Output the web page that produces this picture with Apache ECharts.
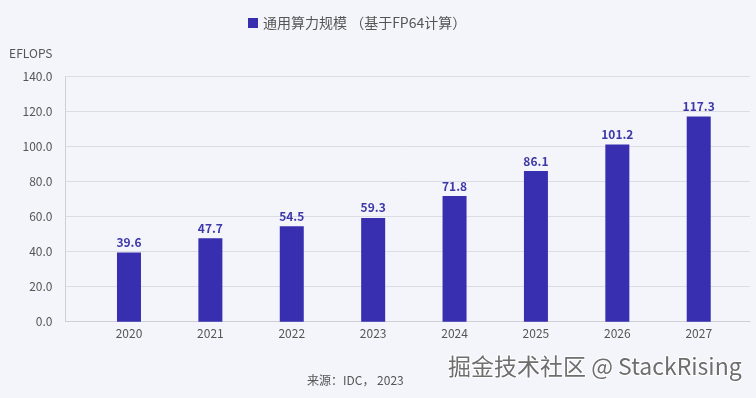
<!DOCTYPE html>
<html>
<head>
<meta charset="utf-8">
<script src="https://cdn.jsdelivr.net/npm/echarts@6/dist/echarts.min.js"></script>
<style>
  html, body { margin: 0; padding: 0; background: #f4f4fb; }
  #main { width: 756px; height: 398px; }
</style>
</head>
<body>
<div id="main"></div>
<script>
// 年份与通用算力规模（EFLOPS）
var years = [2020, 2021, 2022, 2023, 2024, 2025, 2026, 2027];
var values = [39.6, 47.7, 54.5, 59.3, 71.8, 86.1, 101.2, 117.3];
var yTicks = [0, 20, 40, 60, 80, 100, 120, 140];
var seriesName = '通用算力规模 （基于FP64计算）';

var FONT = '"Noto Sans CJK SC", "Noto Sans", sans-serif';
var barData = [];
for (var i = 0; i < years.length; i++) {
    barData.push([years[i], values[i]]);
}

var myChart = echarts.init(document.getElementById('main'));
var option = {
    backgroundColor: '#f4f4fb',
    textStyle: { fontFamily: FONT },
    legend: {
        top: 11,
        left: 243,
        itemWidth: 10,
        itemHeight: 10,
        itemGap: 7,
        icon: 'rect',
        textStyle: { fontSize: 14, color: '#555', fontFamily: FONT },
        data: [seriesName]
    },
    grid: {
        left: 65.5,
        right: 6,
        top: 76.7,
        bottom: 76.3
    },
    xAxis: {
        type: 'value',
        min: 2019.22,
        max: 2027.63,
        splitLine: { show: false },
        axisLine: { show: true, lineStyle: { color: '#cfcfd8' } },
        axisTick: { show: false },
        axisLabel: {
            customValues: years,
            color: '#555',
            fontSize: 12,
            margin: 6,
            fontFamily: FONT,
            formatter: function (v) { return String(v); }
        }
    },
    yAxis: {
        type: 'value',
        name: 'EFLOPS',
        nameLocation: 'end',
        nameGap: 17,
        nameTextStyle: { color: '#555', fontSize: 12, align: 'right', padding: [0, 13, 0, 0], fontFamily: FONT },
        min: 0,
        max: 140,
        interval: 20,
        axisLine: { show: true, lineStyle: { color: '#cfcfd8' } },
        axisTick: { show: false },
        splitLine: { lineStyle: { color: '#dcdce4', width: 1 } },
        axisLabel: {
            customValues: yTicks,
            color: '#555',
            fontSize: 12,
            margin: 13,
            fontFamily: FONT,
            formatter: function (v) { return v.toFixed(1); }
        }
    },
    series: [
        {
            name: seriesName,
            type: 'bar',
            barWidth: 24,
            itemStyle: { color: '#372fb0' },
            label: {
                show: true,
                position: 'top',
                distance: 4,
                color: '#3d38a8',
                fontWeight: 'bold',
                fontSize: 12,
                fontFamily: FONT,
                formatter: function (p) { return p.value[1].toFixed(1); }
            },
            data: barData
        }
    ],
    graphic: [
        {
            type: 'text',
            left: 307,
            top: 374,
            style: { text: '来源：IDC， 2023', fill: '#555', font: '12px ' + FONT }
        },
        {
            type: 'text',
            left: 447,
            top: 354,
            style: {
                text: '掘金技术社区 @ StackRising',
                fill: '#6e6e6e',
                font: '23px ' + FONT,
                stroke: '#ffffff',
                lineWidth: 2
            }
        }
    ]
};
myChart.setOption(option);
</script>
</body>
</html>
